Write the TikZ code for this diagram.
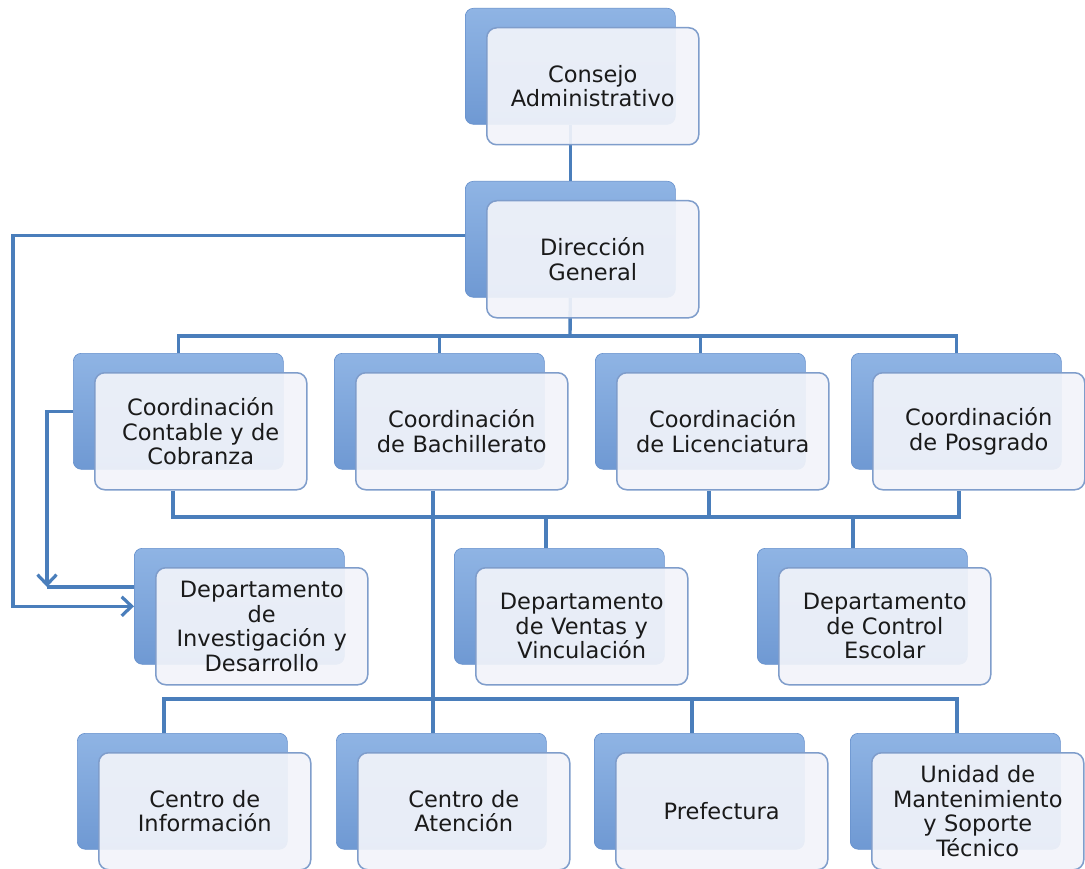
\documentclass[tikz,border=0pt]{standalone}
\usepackage{fontspec}
\setmainfont{DejaVu Sans}
\usetikzlibrary{arrows.meta,calc}
\pgfdeclarelayer{bg}
\pgfsetlayers{bg,main}
\definecolor{linkblue}{HTML}{4A7EBB}
\definecolor{backtop}{HTML}{8FB4E4}
\definecolor{backbot}{HTML}{6F99D3}
\definecolor{backdraw}{HTML}{6690CC}
\definecolor{frontfill}{HTML}{F2F4FA}
\definecolor{frontdraw}{HTML}{7F9DCB}
\definecolor{txt}{HTML}{1A1A1A}
\tikzset{
  backbox/.style={rounded corners=8pt, top color=backtop, bottom color=backbot, draw=backdraw, line width=0.6pt,
    minimum width=210pt, minimum height=116pt, inner sep=0pt, anchor=north west},
  frontbox/.style={rounded corners=10pt, fill=frontfill, fill opacity=0.92, text opacity=1, draw=frontdraw, line width=1.5pt,
    minimum width=212pt, minimum height=117pt, inner sep=0pt, anchor=north west,
    text width=210pt, align=center, text=txt,
    font=\fontsize{22.5}{24.5}\selectfont},
  link/.style={draw=linkblue, line width=3.4pt},
  arrowlink/.style={link, -{Straight Barb[length=10pt,width=19pt,line width=3.2pt]}},
}
\newcommand\orgbox[4]{%
  \node[backbox] (#1b) at (#2-21,#3-19) {};
  \node[frontbox] (#1) at (#2,#3) {#4};
}
\begin{document}
\begin{tikzpicture}[x=1pt,y=-1pt]
\useasboundingbox (0,0) rectangle (1085,869);
\orgbox{consejo}{486}{27}{Consejo\\Administrativo}
\orgbox{direccion}{486}{200}{Dirección\\General}
\orgbox{contable}{94}{372}{Coordinación\\Contable y de\\Cobranza}
\orgbox{bach}{355}{372}{Coordinación\\de Bachillerato}
\orgbox{lic}{616}{372}{Coordinación\\de Licenciatura}
\orgbox{posgrado}{872}{372}{Coordinación\\de Posgrado}
\orgbox{inv}{155}{567}{Departamento\\de\\Investigación y\\Desarrollo}
\orgbox{ventas}{475}{567}{Departamento\\de Ventas y\\Vinculación}
\orgbox{control}{778}{567}{Departamento\\de Control\\Escolar}
\orgbox{info}{98}{752}{Centro de\\Información}
\orgbox{atencion}{357}{752}{Centro de\\Atención}
\orgbox{pref}{615}{752}{Prefectura}
\orgbox{unidad}{871}{752}{Unidad de\\Mantenimiento\\y Soporte\\Técnico}
% junction coordinates
\coordinate (busA) at (570,336);
\coordinate (bBl) at (173,517);
\coordinate (bBr) at (959,517);
\coordinate (licj) at (709,517);
\coordinate (ventj) at (546,517);
\coordinate (contj) at (853,517);
\coordinate (bachj) at (433,699);
\coordinate (bCl) at (164,699);
\coordinate (bCr) at (957,699);
\coordinate (prefj) at (692,699);
\coordinate (outerx) at (13,0);
\coordinate (innerj) at (47,587);
\begin{pgfonlayer}{bg}
\fill[white] (0,0) rectangle (1085,869);
\draw[link] (consejob.south) -- (direccionb.north);
\draw[link] (direccionb.south) -- (busA);
\draw[link] (contableb.north) |- (busA) -| (posgradob.north);
\draw[link] (bachb.north |- busA) -- (bachb.north);
\draw[link] (licb.north |- busA) -- (licb.north);
\draw[link] (contable.south -| bBl) -- (bBl) -- (bBr) -- (posgrado.south -| bBr);
\draw[link] (lic.south -| licj) -- (licj);
\draw[link] (ventj) -- (ventasb.north -| ventj);
\draw[link] (contj) -- (controlb.north -| contj);
\draw[link] (bach.south -| bachj) -- (atencionb.north -| bachj);
\draw[link] (infob.north -| bCl) -- (bCl) -- (bCr) -- (unidadb.north -| bCr);
\draw[link] (prefj) -- (prefb.north -| prefj);
\draw[arrowlink] ($(direccionb.west)+(0,-4)$) -- ($(direccionb.west -| outerx)+(0,-4)$) |- (invb.west);
\draw[arrowlink] (contableb.west) -| (innerj);
\draw[link] (innerj) -- (invb.west |- innerj);
\end{pgfonlayer}
\end{tikzpicture}
\end{document}
